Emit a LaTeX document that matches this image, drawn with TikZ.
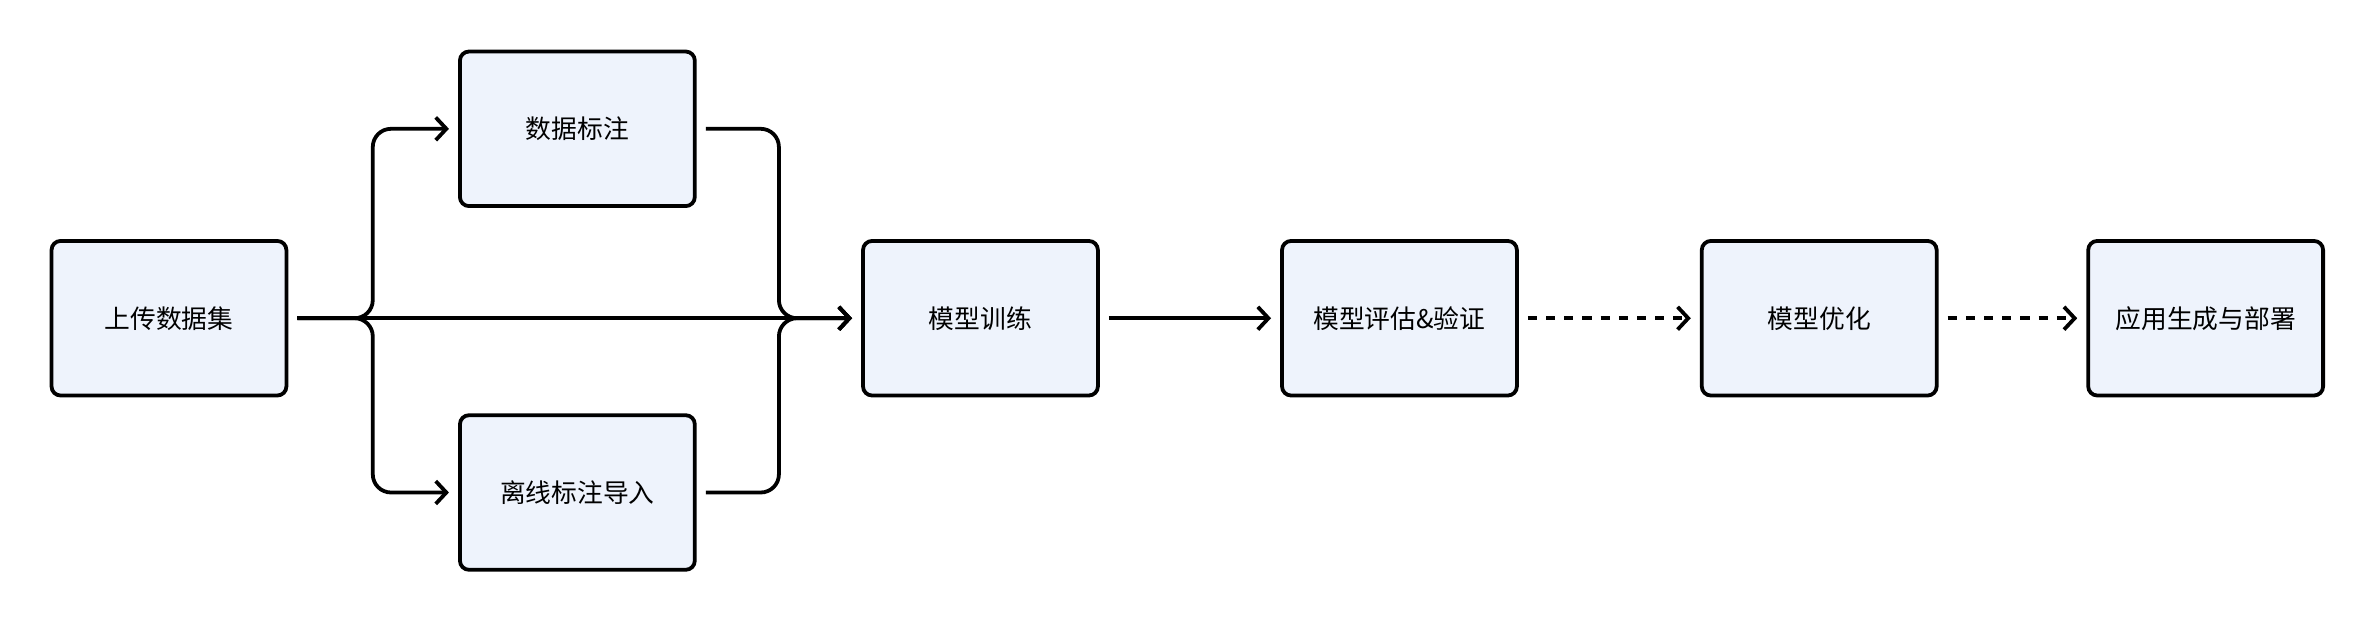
\documentclass[tikz,border=0pt]{standalone}
\usepackage{fontspec}
\newfontfamily\cjk{Noto Sans CJK SC}
\usetikzlibrary{arrows.meta}
\definecolor{boxfill}{HTML}{EEF3FC}
\begin{document}
\begin{tikzpicture}[x=1pt,y=-1pt,
  box/.style={draw=black,fill=boxfill,line width=2.5pt,rounded corners=6pt,minimum width=155pt,minimum height=102pt,font=\cjk\fontsize{17}{20}\selectfont},
  conn/.style={line width=2.5pt,-{Straight Barb[length=7pt,width=15pt,line width=2.5pt]},rounded corners=12pt},
  dconn/.style={conn,dash pattern=on 6pt off 6pt}]
\useasboundingbox (0,0) rectangle (1560,409);
\node[box] (up) at (111.5,210) {上传数据集};
\node[box] (lab) at (381,85) {数据标注};
\node[box] (off) at (381,325) {离线标注导入};
\node[box] (tr) at (647,210) {模型训练};
\node[box] (ev) at (923.5,210) {模型评估\&验证};
\node[box] (op) at (1200.5,210) {模型优化};
\node[box] (de) at (1455.5,210) {应用生成与部署};
\coordinate (s) at ([xshift=6pt]up.east);
\draw[conn] (s) -- ([xshift=-6pt]tr.west);
\draw[conn] (s) -- (246,210) |- ([xshift=-6pt]lab.west);
\draw[conn] (s) -- (246,210) |- ([xshift=-6pt]off.west);
\draw[conn] ([xshift=6pt]lab.east) -| (514,210) -- ([xshift=-6pt]tr.west);
\draw[conn] ([xshift=6pt]off.east) -| (514,210) -- ([xshift=-6pt]tr.west);
\draw[conn] ([xshift=6pt]tr.east) -- ([xshift=-6pt]ev.west);
\draw[dconn] ([xshift=6pt]ev.east) -- ([xshift=-6pt]op.west);
\draw[dconn] ([xshift=6pt]op.east) -- ([xshift=-6pt]de.west);
\end{tikzpicture}
\end{document}
